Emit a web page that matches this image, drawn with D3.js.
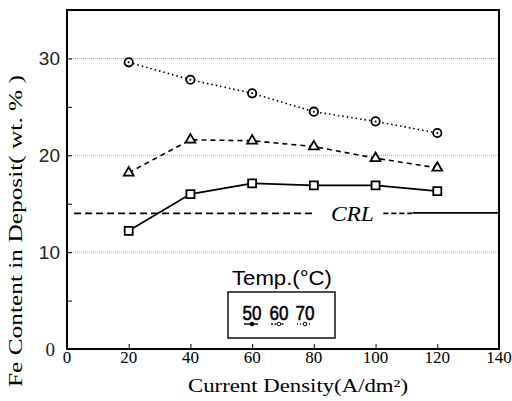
<!DOCTYPE html>
<html lang="en">
<head>
<meta charset="UTF-8">
<title>Fe content vs current density</title>
<script src="https://cdn.jsdelivr.net/npm/d3@7"></script>
<style>
body { margin: 0; background: #fff; }
svg { display: block; }
.serif { font-family: "Liberation Serif", "DejaVu Serif", serif; }
.sans { font-family: "Liberation Sans", Arial, sans-serif; }
</style>
</head>
<body>
<script>
// values
var density = [20, 40, 60, 80, 100, 120];
var fe50 = [12.2, 16.0, 17.1, 16.9, 16.9, 16.3];   // squares, solid
var fe60 = [18.2, 21.6, 21.5, 20.9, 19.7, 18.7];   // triangles, dashed
var fe70 = [29.6, 27.8, 26.4, 24.5, 23.5, 22.3];   // circles, dotted
var crl = 14;
var xTicks = [0, 20, 40, 60, 80, 100, 120, 140];
var yTicks = [0, 10, 20, 30];
var yMinor = [5, 15, 25];
var tempLabels = ["50", "60", "70"];

var W = 512, H = 401;
var margin = {top: 10, right: 13, bottom: 52, left: 67};

var svg = d3.select("body").append("svg")
    .attr("width", W).attr("height", H);

var x = d3.scaleLinear().domain([0, 140]).range([margin.left, W - margin.right]);
var y = d3.scaleLinear().domain([0, 35]).range([H - margin.bottom, margin.top]);

// dotted grid lines
svg.append("g").selectAll("line")
  .data(yTicks.filter(function(d) { return d > 0; }))
  .enter().append("line")
    .attr("x1", x(0)).attr("x2", x(140))
    .attr("y1", function(d) { return y(d); })
    .attr("y2", function(d) { return y(d); })
    .attr("stroke", "#aaa").attr("stroke-width", 1)
    .attr("stroke-dasharray", "1,1");

// frame
svg.append("rect")
    .attr("x", x(0)).attr("y", y(35))
    .attr("width", x(140) - x(0)).attr("height", y(0) - y(35))
    .attr("fill", "none").attr("stroke", "#000").attr("stroke-width", 2);

// inward ticks
var xAxis = d3.axisTop(x).tickValues(xTicks).tickSize(5).tickFormat("");
svg.append("g").attr("transform", "translate(0," + y(0) + ")").call(xAxis)
  .call(function(g) { g.select(".domain").remove(); });

var yAxis = d3.axisRight(y).tickValues(yTicks.concat(yMinor)).tickSize(5).tickFormat("");
svg.append("g").attr("transform", "translate(" + x(0) + ",0)").call(yAxis)
  .call(function(g) { g.select(".domain").remove(); });

// tick labels
svg.append("g").selectAll("text")
  .data(xTicks).enter().append("text")
    .attr("class", "serif")
    .attr("x", function(d) { return x(d); })
    .attr("y", y(0) + 14)
    .attr("text-anchor", "middle")
    .attr("font-size", 17)
    .text(function(d) { return d; });

svg.append("g").selectAll("text")
  .data(yTicks).enter().append("text")
    .attr("class", function(d) { return d === 0 ? "serif" : "sans"; })
    .attr("x", function(d) { return d === 0 ? x(0) - 12 : x(0) - 7; })
    .attr("y", function(d) { return y(d) + 7; })
    .attr("text-anchor", "end")
    .attr("font-size", 19)
    .attr("fill", "#222")
    .text(function(d) { return d; });

// axis titles
svg.append("text")
    .attr("class", "serif")
    .attr("x", 298).attr("y", 392)
    .attr("text-anchor", "middle")
    .attr("font-size", 18)
    .attr("textLength", 220).attr("lengthAdjust", "spacingAndGlyphs")
    .text("Current Density(A/dm\u00b2)");

svg.append("text")
    .attr("class", "serif")
    .attr("transform", "translate(22,231) rotate(-90)")
    .attr("text-anchor", "middle")
    .attr("font-size", 18)
    .attr("textLength", 312).attr("lengthAdjust", "spacingAndGlyphs")
    .text("Fe Content in Deposit( wt. % )");

// CRL line
svg.append("line")
    .attr("x1", x(2.3)).attr("x2", x(80.5))
    .attr("y1", y(crl)).attr("y2", y(crl))
    .attr("stroke", "#000").attr("stroke-width", 1.6)
    .attr("stroke-dasharray", "7,4");
svg.append("line")
    .attr("x1", x(102.5)).attr("x2", x(112))
    .attr("y1", y(crl)).attr("y2", y(crl))
    .attr("stroke", "#000").attr("stroke-width", 1.6)
    .attr("stroke-dasharray", "5,3");
svg.append("line")
    .attr("x1", x(112)).attr("x2", x(140))
    .attr("y1", y(crl) - 0.5).attr("y2", y(crl) - 0.5)
    .attr("stroke", "#000").attr("stroke-width", 1.6);
svg.append("text")
    .attr("class", "serif")
    .attr("x", x(92.5)).attr("y", y(crl) + 8)
    .attr("text-anchor", "middle")
    .attr("font-size", 20).attr("font-style", "italic")
    .attr("textLength", 43).attr("lengthAdjust", "spacingAndGlyphs")
    .text("CRL");

// series
var series = [
  {vals: fe50, dash: null, width: 1.8, marker: "square"},
  {vals: fe60, dash: "5,4", width: 1.6, marker: "triangle"},
  {vals: fe70, dash: "1.5,3", width: 1.6, marker: "circle"}
];

var line = d3.line()
    .x(function(d) { return x(d[0]); })
    .y(function(d) { return y(d[1]); });

var symbols = {
  square: d3.symbol().type(d3.symbolSquare).size(64),
  triangle: d3.symbol().type(d3.symbolTriangle).size(42),
  circle: d3.symbol().type(d3.symbolCircle).size(55)
};

series.forEach(function(s) {
  var pts = density.map(function(d, i) { return [d, s.vals[i]]; });
  svg.append("path")
      .datum(pts)
      .attr("d", line)
      .attr("fill", "none")
      .attr("stroke", "#000")
      .attr("stroke-width", s.width)
      .attr("stroke-dasharray", s.dash);
  svg.append("g").selectAll("path")
    .data(pts).enter().append("path")
      .attr("transform", function(d) { return "translate(" + x(d[0]) + "," + y(d[1]) + ")"; })
      .attr("d", symbols[s.marker])
      .attr("fill", "#fff")
      .attr("stroke", "#000")
      .attr("stroke-width", 1.8);
  if (s.marker === "circle") {
    svg.append("g").selectAll("circle")
      .data(pts).enter().append("circle")
        .attr("cx", function(d) { return x(d[0]); })
        .attr("cy", function(d) { return y(d[1]); })
        .attr("r", 1).attr("fill", "#000");
  }
});

// legend
svg.append("text")
    .attr("class", "sans")
    .attr("x", 282).attr("y", 285)
    .attr("text-anchor", "middle")
    .attr("font-size", 21)
    .attr("textLength", 100).attr("lengthAdjust", "spacingAndGlyphs")
    .text("Temp.(\u00b0C)");

svg.append("rect")
    .attr("x", 228).attr("y", 292)
    .attr("width", 107).attr("height", 46)
    .attr("fill", "#fff").attr("stroke", "#000").attr("stroke-width", 1.4);

var legX = [252, 279, 305];
var legDash = [null, "2,1.5", "1,2"];
tempLabels.forEach(function(t, i) {
  svg.append("text")
      .attr("class", "sans")
      .attr("x", legX[i]).attr("y", 320)
      .attr("text-anchor", "middle")
      .attr("font-size", 21)
      .attr("textLength", 19).attr("lengthAdjust", "spacingAndGlyphs")
      .attr("stroke", "#000").attr("stroke-width", 0.6)
      .text(t);
  svg.append("line")
      .attr("x1", legX[i] - 8).attr("x2", legX[i] + 6)
      .attr("y1", 324).attr("y2", 324)
      .attr("stroke", "#000").attr("stroke-width", 1.4)
      .attr("stroke-dasharray", legDash[i]);
  svg.append("circle")
      .attr("cx", legX[i]).attr("cy", 324).attr("r", 1.8)
      .attr("fill", i === 0 ? "#000" : "#fff")
      .attr("stroke", "#000").attr("stroke-width", 1);
});
</script>
</body>
</html>
